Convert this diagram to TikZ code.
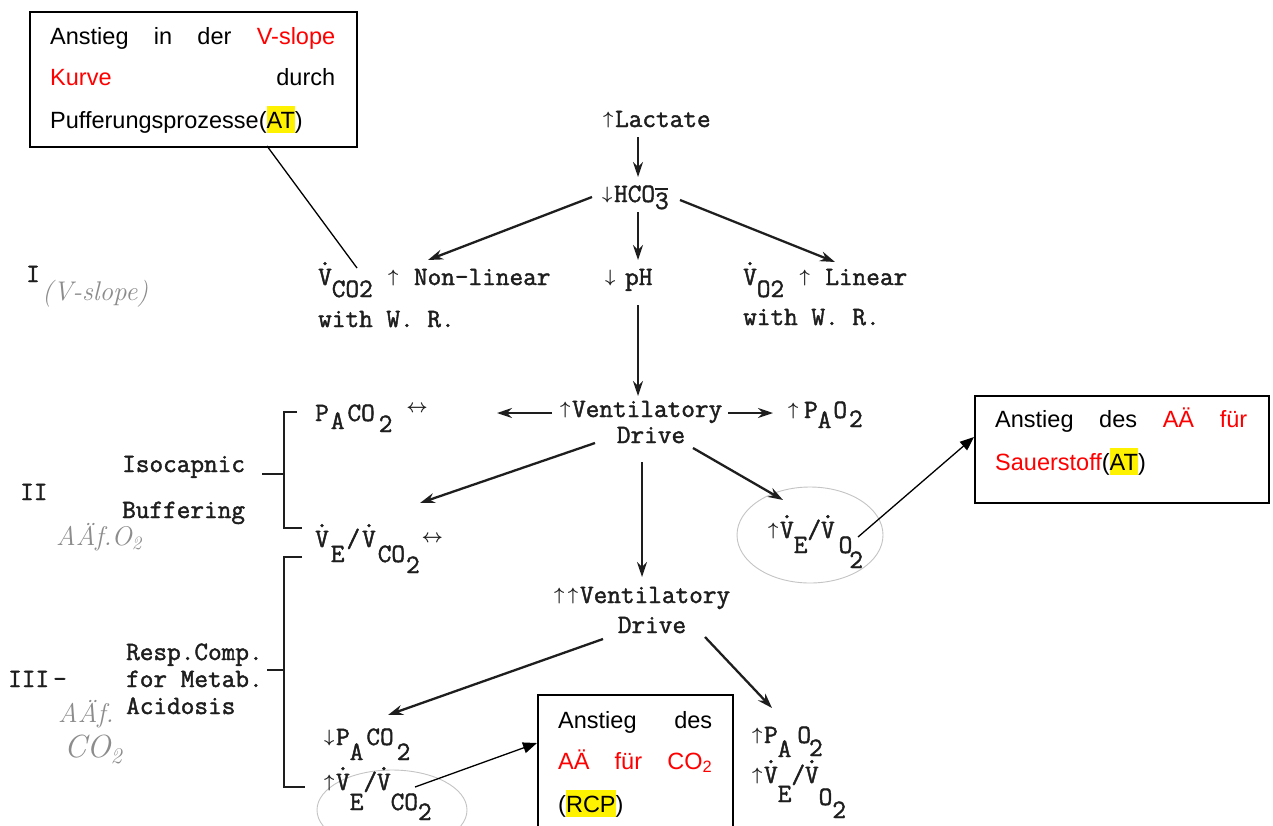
\documentclass[tikz,border=0pt]{standalone}
\usepackage{fontspec}
\usepackage{graphicx}
\usetikzlibrary{arrows.meta}
\newfontfamily\arialf{Liberation Sans}
\newfontfamily\twf[FakeBold=1.6]{Latin Modern Mono}
\definecolor{ink}{HTML}{1E1E1E}
\definecolor{pencil}{HTML}{8C8C8C}
\definecolor{ring}{HTML}{C4C4C4}
\newcommand\twsize{\fontsize{26.5}{30}\selectfont}
\newcommand\ua{\makebox[0.525em]{\raisebox{0.1em}{\scalebox{0.72}{\boldmath$\uparrow$}}}}
\newcommand\da{\makebox[0.525em]{\raisebox{0.1em}{\scalebox{0.72}{\boldmath$\downarrow$}}}}
\newcommand\lra{\scalebox{0.75}{\boldmath$\leftrightarrow$}}
\newcommand\Vd{\makebox[0pt][l]{\raisebox{0.75em}{.}}V}
\newcommand\dn[2][12pt]{\raisebox{-#1}{#2}}
\newcommand\hl[1]{{\setlength\fboxsep{0pt}\colorbox{yellow}{\rule[-0.22em]{0pt}{1.16em}#1}}}
\newcommand\rd[1]{\textcolor{red}{#1}}
\tikzset{
  tw/.style={font=\twf\twsize\frenchspacing, text=ink, inner sep=0pt, anchor=base west},
  bx/.style={font=\arialf\fontsize{23.5}{28}\selectfont, inner sep=0pt, anchor=base west},
  hand/.style={font=\rmfamily\itshape\fontsize{27}{30}\selectfont, text=pencil, inner sep=0pt, anchor=base west},
  boxframe/.style={draw=black, line width=1.6pt, inner sep=0pt, anchor=north west},
  arr/.style={draw=ink, line width=2.3pt, -{Stealth[length=15pt,width=10pt]}},
  link/.style={draw=black, line width=1.3pt},
  linkarr/.style={link, -{Triangle[length=14pt,width=11pt]}},
  brk/.style={draw=ink, line width=2.4pt},
  ringline/.style={draw=ring, line width=0.9pt}
}
\begin{document}
\begin{tikzpicture}[x=1pt,y=-1pt]
\useasboundingbox (0,0) rectangle (1273,825);
\fill[white] (0,0) rectangle (1273,825);
\clip (0,0) rectangle (1273,825);

% hand-drawn rings
\draw[ringline] (810,535) ellipse [x radius=73, y radius=48];
\draw[ringline] (392,810) ellipse [x radius=75, y radius=40];

% typed texts
\node[tw] (lact) at (601,127) {\ua Lactate};
\node[tw] (hco) at (600,202) {\da HCO\dn[7pt]{\makebox[0pt][l]{\rule[0.72em]{0.5em}{1.8pt}}3}};
\node[tw] (vco2) at (318,285) {\Vd\dn{CO2} \ua\ Non-linear};
\node[tw] (wr1) at (318,327) {with W. R.};
\node[tw] (ph) at (603,285) {\da\hspace{8pt}pH};
\node[tw] (vo2) at (743,285) {\Vd\dn{O2} \ua\ Linear};
\node[tw] (wr2) at (743,325) {with W. R.};

\node[tw] (paco2) at (315,421) {P\hspace{2pt}\dn[8pt]{A}\hspace{3pt}CO\hspace{4pt}\dn[11pt]{2}\hspace{14pt}\raisebox{9pt}{\lra}};
\node[tw] (vd) at (558,417) {\ua Ventilatory};
\node[tw,anchor=base] (drive1) at (651,443) {Drive};
\node[tw] (pao2) at (786,418) {\ua\hspace{4pt}P\dn[10pt]{A}\hspace{2pt}O\hspace{2pt}\dn[9pt]{2}};

\node[tw] (vevco2) at (315,547) {\Vd\hspace{2pt}\dn[15pt]{E}\hspace{2pt}/\hspace{2pt}\Vd\hspace{2pt}\dn[15pt]{CO}\hspace{1pt}\dn[26pt]{2}\hspace{2pt}\raisebox{5pt}{\lra}};
\node[tw] (vevo2) at (766,538) {\ua\Vd\dn[15pt]{E}/\Vd\hspace{4pt}\dn[15pt]{O}\kern-3pt\dn[30pt]{2}};

\node[tw] (vd2) at (552,603) {\ua\ua Ventilatory};
\node[tw,anchor=base] (drive2) at (652,633) {Drive};

\node[tw] (dpaco2) at (322,745) {\da P\dn[15pt]{A}\hspace{3pt}CO\hspace{3pt}\dn[15pt]{2}};
\node[tw] (uvevco2) at (322,790) {\ua\Vd\dn[20pt]{E}/\Vd\dn[20pt]{CO}\dn[30pt]{2}};
\node[tw] (upao2) at (750,743) {\ua P\dn[14pt]{A}\hspace{6pt}O\kern-2pt\dn[13pt]{2}};
\node[tw] (uvevo2) at (750,783) {\ua\Vd\dn[19pt]{E}/\Vd\dn[22pt]{O}\dn[35pt]{2}};

% left labels
\node[tw] (n1) at (26,282) {I};
\node[tw] (n2) at (20,500) {II};
\node[tw] (n3) at (8,687) {III\hspace{4pt}–};
\node[tw] (iso) at (122,472) {Isocapnic};
\node[tw] (buf) at (122,518) {Buffering};
\node[tw] (resp) at (126,660) {Resp.Comp.};
\node[tw] (met) at (126,687) {for Metab.};
\node[tw] (acid) at (126,714) {Acidosis};

% pencil notes
\node[hand] (h1) at (42,300) {(V-slope)};
\node[hand] (h2) at (56,545) {AÄf.O\textsubscript{2}};
\node[hand] (h3) at (58,722) {AÄf.};
\node[hand,font=\rmfamily\itshape\fontsize{32}{34}\selectfont] (h4) at (64,757) {CO\textsubscript{2}};

% brackets
\draw[brk] (297,412) -- (284,412) -- (284,528) -- (302,528);
\draw[brk] (262,474) -- (284,474);
\draw[brk] (302,557) -- (284,557) -- (284,787) -- (305,787);
\draw[brk] (267,670) -- (284,670);

% arrow end points
\coordinate (a1s) at (638,137);  \coordinate (a1e) at (638,177);
\coordinate (a2s) at (592,197);  \coordinate (a2e) at (428,260);
\coordinate (a3s) at (638,212);  \coordinate (a3e) at (638,260);
\coordinate (a4s) at (680,200);  \coordinate (a4e) at (835,262);
\coordinate (a5s) at (638,305);  \coordinate (a5e) at (638,396);
\coordinate (a6s) at (552,413);  \coordinate (a6e) at (497,413);
\coordinate (a7s) at (728,413);  \coordinate (a7e) at (773,413);
\coordinate (a8s) at (595,443);  \coordinate (a8e) at (420,503);
\coordinate (a9s) at (642,462);  \coordinate (a9e) at (642,577);
\coordinate (a10s) at (693,448); \coordinate (a10e) at (783,500);
\coordinate (a11s) at (603,639); \coordinate (a11e) at (388,715);
\coordinate (a12s) at (705,637); \coordinate (a12e) at (772,708);

\draw[arr] (a1s) -- (a1e);
\draw[arr] (a2s) -- (a2e);
\draw[arr] (a3s) -- (a3e);
\draw[arr] (a4s) -- (a4e);
\draw[arr] (a5s) -- (a5e);
\draw[arr] (a6s) -- (a6e);
\draw[arr] (a7s) -- (a7e);
\draw[arr] (a8s) -- (a8e);
\draw[arr] (a9s) -- (a9e);
\draw[arr] (a10s) -- (a10e);
\draw[arr] (a11s) -- (a11e);
\draw[arr] (a12s) -- (a12e);

% callout boxes
\node[boxframe, minimum width=327pt, minimum height=135pt] (b1) at (29,11) {};
\node[bx] (b1t1) at (50,44) {\makebox[285pt][s]{Anstieg in der \rd{V-slope}}};
\node[bx] (b1t2) at (50,85) {\makebox[285pt][s]{\rd{Kurve} durch}};
\node[bx] (b1t3) at (50,128) {Pufferungsprozesse(\hl{AT})};

\node[boxframe, minimum width=294pt, minimum height=107pt] (b2) at (974,395) {};
\node[bx] (b2t1) at (995,427) {\makebox[252pt][s]{Anstieg des \rd{AÄ für}}};
\node[bx] (b2t2) at (995,470) {\rd{Sauerstoff}(\hl{AT})};

\node[boxframe, minimum width=195pt, minimum height=150pt] (b3) at (537,694) {};
\node[bx] (b3t1) at (558,728) {\makebox[154pt][s]{Anstieg des}};
\node[bx] (b3t2) at (558,769) {\makebox[154pt][s]{\rd{AÄ für CO\textsubscript{2}}}};
\node[bx] (b3t3) at (558,812) {(\hl{RCP})};

% callout connectors
\coordinate (l1s) at (267,146); \coordinate (l1e) at (357,268);
\coordinate (l2s) at (858,537); \coordinate (l2e) at (974,437);
\coordinate (l3s) at (415,787); \coordinate (l3e) at (537,743);
\draw[link] (l1s) -- (l1e);
\draw[linkarr] (l2s) -- (l2e);
\draw[linkarr] (l3s) -- (l3e);
\end{tikzpicture}
\end{document}
